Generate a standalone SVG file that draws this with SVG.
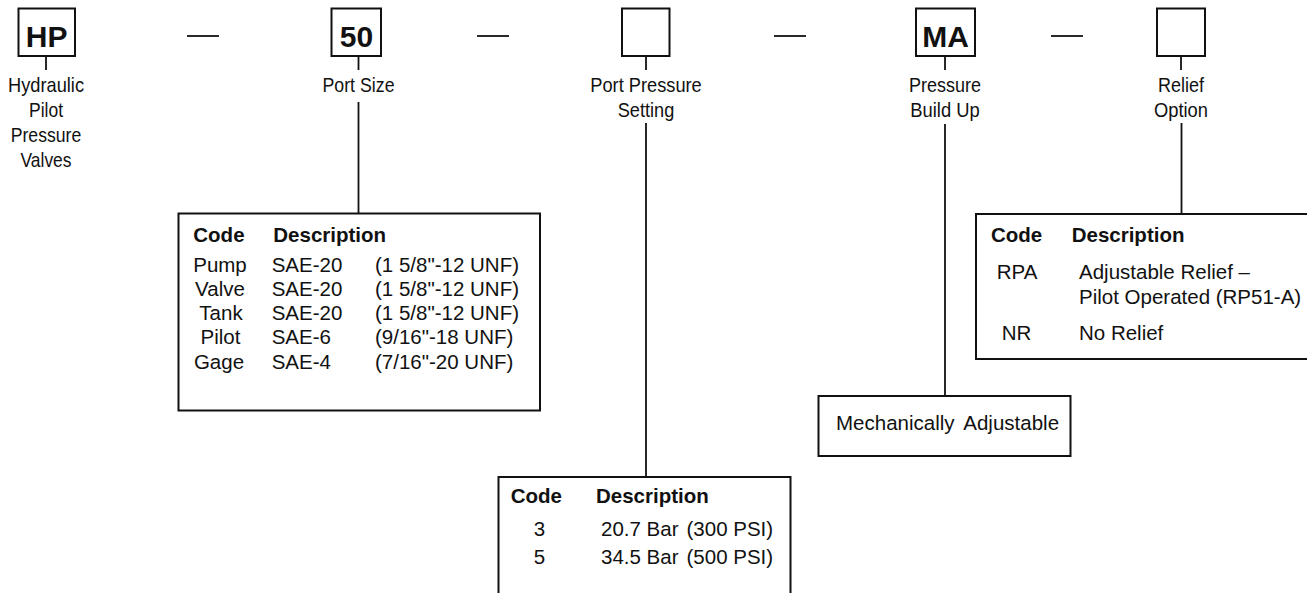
<svg xmlns="http://www.w3.org/2000/svg" width="1307" height="593" viewBox="0 0 1307 593">
<style>
.bx{fill:#fff;stroke:#111;stroke-width:2}
.ln{stroke:#111;stroke-width:1.8;fill:none}
.code{font-family:"Liberation Sans",Arial,sans-serif;font-weight:bold;font-size:30px;fill:#111;text-anchor:middle}
.lbl{font-family:"Liberation Sans",Arial,sans-serif;font-size:21px;fill:#111;text-anchor:middle}
.t{font-family:"Liberation Sans",Arial,sans-serif;font-size:20.5px;fill:#111}
.th{font-family:"Liberation Sans",Arial,sans-serif;font-size:20.5px;font-weight:bold;fill:#111}
.c{text-anchor:middle}
</style>
<g id="connectors">
<line class="ln" x1="187" y1="36" x2="219" y2="36"/>
<line class="ln" x1="477" y1="36" x2="509" y2="36"/>
<line class="ln" x1="774" y1="36" x2="806" y2="36"/>
<line class="ln" x1="1051" y1="36" x2="1083" y2="36"/>
<line class="ln" x1="46" y1="56" x2="46" y2="70"/>
<line class="ln" x1="358.5" y1="56" x2="358.5" y2="70"/>
<line class="ln" x1="358.5" y1="102" x2="358.5" y2="213"/>
<line class="ln" x1="646" y1="56" x2="646" y2="70"/>
<line class="ln" x1="646" y1="123" x2="646" y2="477"/>
<line class="ln" x1="945" y1="56" x2="945" y2="70"/>
<line class="ln" x1="945" y1="124" x2="945" y2="396"/>
<line class="ln" x1="1181" y1="56" x2="1181" y2="70"/>
<line class="ln" x1="1181.5" y1="123" x2="1181.5" y2="214"/>
</g>
<g id="node-hp">
<rect class="bx" x="18.5" y="8.5" width="56.5" height="47.5"/>
<text class="code" x="46.7" y="46.5">HP</text>
<text class="lbl" x="46" y="91.5" textLength="76" lengthAdjust="spacingAndGlyphs">Hydraulic</text>
<text class="lbl" x="46" y="116.5" textLength="34" lengthAdjust="spacingAndGlyphs">Pilot</text>
<text class="lbl" x="46" y="141.5" textLength="70.5" lengthAdjust="spacingAndGlyphs">Pressure</text>
<text class="lbl" x="46" y="166.5" textLength="51" lengthAdjust="spacingAndGlyphs">Valves</text>
</g>
<g id="node-50">
<rect class="bx" x="331.5" y="8.5" width="49.5" height="47.5"/>
<text class="code" x="356.5" y="46.5">50</text>
<text class="lbl" x="358.5" y="91.5" textLength="72" lengthAdjust="spacingAndGlyphs">Port Size</text>
</g>
<g id="node-pressure-setting">
<rect class="bx" x="622" y="8.5" width="47.5" height="47.5"/>
<text class="lbl" x="646" y="91.5" textLength="111.5" lengthAdjust="spacingAndGlyphs">Port Pressure</text>
<text class="lbl" x="646" y="117" textLength="56.5" lengthAdjust="spacingAndGlyphs">Setting</text>
</g>
<g id="node-ma">
<rect class="bx" x="916" y="8.5" width="59" height="47.5"/>
<text class="code" x="945.5" y="46.5">MA</text>
<text class="lbl" x="945" y="91.5" textLength="72" lengthAdjust="spacingAndGlyphs">Pressure</text>
<text class="lbl" x="945" y="117" textLength="69.5" lengthAdjust="spacingAndGlyphs">Build Up</text>
</g>
<g id="node-relief">
<rect class="bx" x="1157" y="8.5" width="48" height="47.5"/>
<text class="lbl" x="1181" y="91.5" textLength="46" lengthAdjust="spacingAndGlyphs">Relief</text>
<text class="lbl" x="1181" y="117" textLength="54" lengthAdjust="spacingAndGlyphs">Option</text>
</g>
<g id="table-port-size">
<rect class="bx" x="178.5" y="213.5" width="361.5" height="197"/>
<text class="th" x="193.3" y="241.7">Code</text>
<text class="th" x="273.3" y="241.7">Description</text>
<text class="t c" x="220" y="271.7">Pump</text>
<text class="t" x="271.7" y="271.7">SAE-20</text>
<text class="t" x="375" y="271.7">(1 5/8"-12 UNF)</text>
<text class="t c" x="220" y="296">Valve</text>
<text class="t" x="271.7" y="296">SAE-20</text>
<text class="t" x="375" y="296">(1 5/8"-12 UNF)</text>
<text class="t c" x="221" y="320">Tank</text>
<text class="t" x="271.7" y="320">SAE-20</text>
<text class="t" x="375" y="320">(1 5/8"-12 UNF)</text>
<text class="t c" x="220.5" y="344.3">Pilot</text>
<text class="t" x="271.7" y="344.3">SAE-6</text>
<text class="t" x="375" y="344.3">(9/16"-18 UNF)</text>
<text class="t c" x="219" y="368.5">Gage</text>
<text class="t" x="271.7" y="368.5">SAE-4</text>
<text class="t" x="375" y="368.5">(7/16"-20 UNF)</text>
</g>
<g id="table-pressure-setting">
<rect class="bx" x="498.5" y="477" width="292" height="130"/>
<text class="th" x="510.7" y="503.3">Code</text>
<text class="th" x="596" y="503.3">Description</text>
<text class="t c" x="539.5" y="535.7">3</text>
<text class="t" x="601" y="535.7">20.7 Bar</text>
<text class="t" x="686.5" y="535.7">(300 PSI)</text>
<text class="t c" x="539.5" y="564">5</text>
<text class="t" x="601" y="564">34.5 Bar</text>
<text class="t" x="686.5" y="564">(500 PSI)</text>
</g>
<g id="box-mechanically">
<rect class="bx" x="818.5" y="396" width="252" height="60"/>
<text class="t" x="836" y="430">Mechanically</text>
<text class="t" x="963.3" y="430">Adjustable</text>
</g>
<g id="table-relief">
<rect class="bx" x="976" y="214" width="340" height="145"/>
<text class="th" x="991" y="241.7">Code</text>
<text class="th" x="1071.7" y="241.7">Description</text>
<text class="t" x="996.7" y="279">RPA</text>
<text class="t" x="1079" y="279">Adjustable Relief –</text>
<text class="t" x="1079" y="303.5">Pilot Operated (RP51-A)</text>
<text class="t" x="1001.7" y="340">NR</text>
<text class="t" x="1079" y="340">No Relief</text>
</g>
</svg>
